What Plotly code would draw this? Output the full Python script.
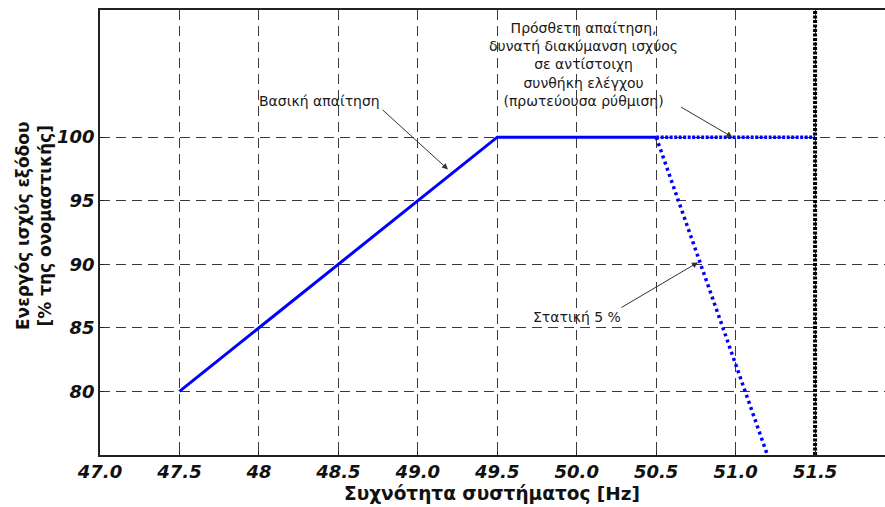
import plotly.graph_objects as go

# Frequency (Hz) / active power (% of rated) characteristics
base_freq = [47.5, 49.5, 50.5]
base_power = [80, 100, 100]

extra_freq = [50.5, 51.5]
extra_power = [100, 100]

droop_freq = [50.5, 51.2]
droop_power = [100, 75]

limit_freq = [51.5, 51.5]
limit_power = [75, 110]

x_ticks = [47.0, 47.5, 48.0, 48.5, 49.0, 49.5, 50.0, 50.5, 51.0, 51.5]
x_tick_text = ["47.0", "47.5", "48", "48.5", "49.0", "49.5", "50.0", "50.5", "51.0", "51.5"]
y_ticks = [80, 85, 90, 95, 100]

BLUE = "#0000ff"
FONT = "DejaVu Sans, sans-serif"

fig = go.Figure()
fig.add_trace(go.Scatter(x=base_freq, y=base_power, mode="lines",
                         line=dict(color=BLUE, width=3), hoverinfo="skip"))
fig.add_trace(go.Scatter(x=extra_freq, y=extra_power, mode="lines",
                         line=dict(color=BLUE, width=3.5, dash="3px,1.5px"), hoverinfo="skip"))
fig.add_trace(go.Scatter(x=droop_freq, y=droop_power, mode="lines",
                         line=dict(color=BLUE, width=3.5, dash="3px,3.5px"), hoverinfo="skip"))
fig.add_trace(go.Scatter(x=limit_freq, y=limit_power, mode="lines",
                         line=dict(color="black", width=4, dash="3px,1.5px"), hoverinfo="skip"))

tick_font = dict(family=FONT, size=18, color="#111", weight="bold", style="italic")
label_font = dict(family=FONT, size=14, color="#1a1a1a")
grid = dict(showgrid=True, gridcolor="#3a3a3a", gridwidth=1, griddash="10px,6px")

fig.update_xaxes(range=[47.0, 51.94], tickvals=x_ticks, ticktext=x_tick_text,
                 tickfont=tick_font, showline=True, linecolor="#222", linewidth=1.5,
                 mirror=True, ticks="inside", ticklen=4, tickcolor="#222",
                 zeroline=False, **grid)
fig.update_yaxes(range=[75, 110], tickvals=y_ticks, tickfont=tick_font,
                 showline=True, linecolor="#222", linewidth=1.5, mirror=False,
                 ticks="inside", ticklen=4, tickcolor="#222", zeroline=False, **grid)

annotations = [
    # Axis titles
    dict(text="<b>Συχνότητα συστήματος [Hz]</b>", xref="paper", yref="paper",
         x=0.4994, y=0, yshift=-38, xanchor="center", yanchor="middle",
         showarrow=False, font=dict(family=FONT, size=18.5, color="#111")),
    dict(text="<b>Ενεργός ισχύς εξόδου<br>[% της ονομαστικής]</b>", xref="paper", yref="paper",
         x=0, xshift=-66, y=0.5146, xanchor="center", yanchor="middle", textangle=-90,
         showarrow=False, font=dict(family=FONT, size=17, color="#111")),
    # Labels
    dict(text="Βασική απαίτηση", x=48.381, y=102.83, showarrow=False, font=label_font),
    dict(text="", x=49.19, y=97.46, ax=-67, ay=-61, showarrow=True, arrowhead=2,
         arrowsize=1.2, arrowwidth=1, arrowcolor="#333", standoff=0),
    dict(text="Πρόσθετη απαίτηση,<br>δυνατή διακύμανση ισχύος<br>σε αντίστοιχη<br>"
              "συνθήκη ελέγχου<br>(πρωτεύουσα ρύθμιση)",
         x=50.04, y=105.7, showarrow=False, font=label_font, align="center"),
    dict(text="", x=50.98, y=100, ax=-53, ay=-31, showarrow=True, arrowhead=2,
         arrowsize=1.2, arrowwidth=1, arrowcolor="#333", standoff=0),
    dict(text="Στατική 5 %", x=50.002, y=85.83, showarrow=False, font=label_font),
    dict(text="", x=50.763, y=90.15, ax=-78, ay=46, showarrow=True, arrowhead=2,
         arrowsize=1.2, arrowwidth=1, arrowcolor="#333", standoff=0),
]

fig.update_layout(width=885, height=507, margin=dict(l=100, r=0, t=10, b=52),
                  plot_bgcolor="white", paper_bgcolor="white", showlegend=False,
                  annotations=annotations)

fig.write_html("out.html", config={"displayModeBar": False})
